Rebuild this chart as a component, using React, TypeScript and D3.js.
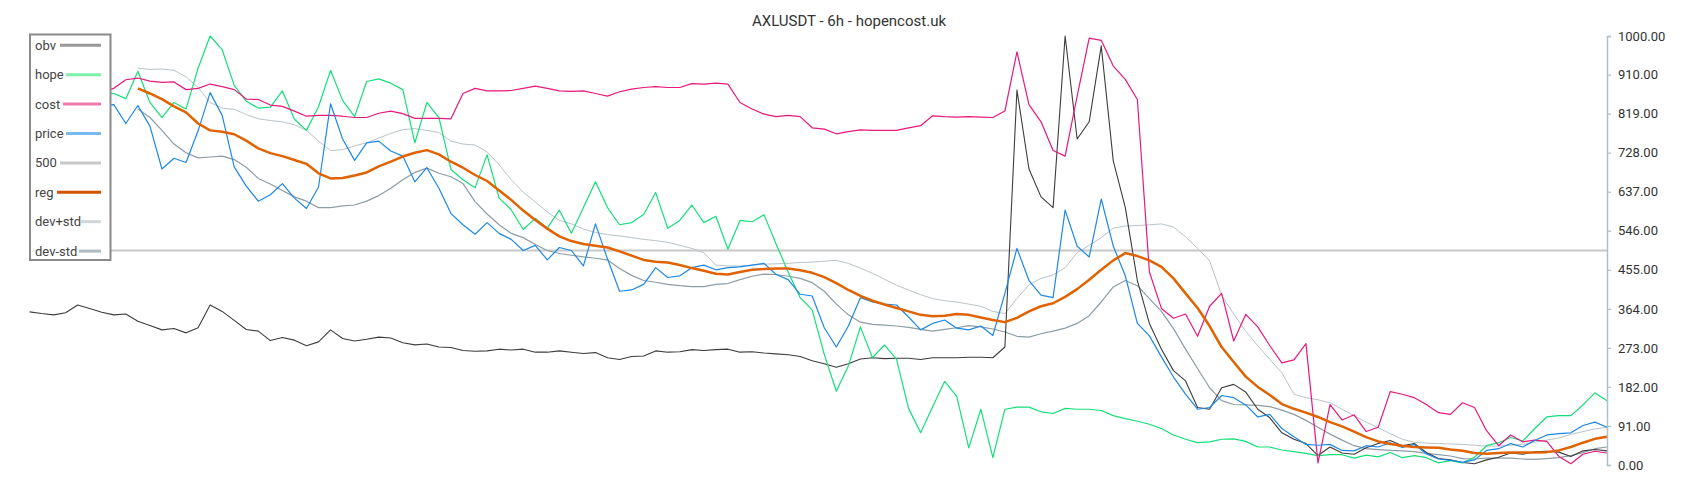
import React, { useEffect, useRef } from 'react';
import * as d3 from 'd3';

const TITLE = 'AXLUSDT - 6h - hopencost.uk';
const TICKS = [0, 91, 182, 273, 364, 455, 546, 637, 728, 819, 910, 1000];
const LEVEL = 500;

const obv: number[] = [357,353,350,355,373,365,356,350,352,335,
 325,315,318,308,320,373,358,337,316,312,
 290,297,291,278,287,315,295,289,293,298,
 296,285,280,282,275,274,267,265,266,270,
 268,270,263,263,266,263,260,262,250,246,
 253,254,266,263,264,269,267,269,270,263,
 264,261,259,257,253,243,236,228,236,247,
 250,248,249,249,246,250,250,250,251,251,
 250,275,874,690,625,600,1000,760,800,977,
 709,600,430,330,270,220,196,134,130,180,
 188,170,130,110,75,60,50,22,42,28,
 25,40,50,57,45,50,29,15,12,6,
 3,12,18,28,25,31,32,30,20,33,
 36,33];

const hope: number[] = [880,895,905,890,880,875,868,866,854,918,
 845,810,845,830,925,1000,968,885,848,832,
 834,872,806,780,835,920,850,812,894,900,
 890,875,751,845,810,689,665,646,723,622,
 595,549,575,552,594,540,600,660,600,560,
 565,584,635,552,570,606,565,580,503,570,
 567,583,515,450,390,361,258,172,231,322,
 250,280,246,132,75,136,195,160,40,130,
 17,130,135,135,124,120,132,130,130,127,
 115,108,102,95,85,70,60,52,54,60,
 61,55,42,42,35,31,27,22,24,24,
 16,23,19,29,17,22,17,5,10,5,
 18,45,52,64,56,85,112,115,115,140,
 168,150];

const cost: number[] = [860,866,870,868,874,872,870,878,898,902,
 895,892,893,875,878,888,882,875,853,852,
 839,836,825,813,815,815,813,810,810,820,
 825,819,808,808,808,807,866,878,872,872,
 873,878,883,878,872,871,872,866,860,870,
 876,880,882,880,880,889,888,890,888,845,
 830,818,812,815,812,786,783,772,777,781,
 780,780,780,786,791,814,812,811,812,811,
 810,825,963,840,800,733,720,860,995,990,
 930,899,852,450,365,342,352,300,370,400,
 289,351,322,278,238,245,283,5,141,105,
 117,78,88,171,165,157,141,122,118,145,
 134,80,45,70,54,58,55,20,3,25,
 32,28];

const price: number[] = [850,842,832,845,830,836,838,840,796,838,
 790,690,715,705,779,868,815,695,650,615,
 630,656,622,598,648,842,760,710,751,755,
 732,720,660,693,645,586,560,538,565,540,
 526,500,512,478,507,500,464,562,480,405,
 408,421,460,437,441,460,466,455,460,462,
 466,470,444,432,398,394,320,275,324,390,
 380,375,373,345,315,330,338,319,315,324,
 302,400,505,430,396,390,594,510,485,620,
 510,441,330,301,252,205,165,130,134,162,
 157,140,112,118,85,66,48,46,48,34,
 33,45,42,52,41,48,26,14,11,6,
 12,34,38,50,42,57,70,73,75,92,
 100,88];

const reg: (number | null)[] = [null,null,null,null,null,null,null,null,null,
 878,866,853,836,822,796,780,777,771,756,738,
 727,720,711,702,680,668,669,675,682,696,
 707,719,728,734,724,707,693,676,662,640,
 618,593,571,551,533,522,515,511,507,498,
 488,478,474,472,466,459,453,446,444,450,
 455,457,458,458,454,448,438,424,408,394,
 383,374,366,358,350,347,348,352,350,344,
 338,333,343,358,370,377,392,410,432,455,
 477,494,487,477,462,435,400,366,324,275,
 240,206,182,163,142,131,122,112,100,90,
 78,65,55,49,45,42,41,40,36,33,
 28,26,28,29,29,29,30,34,42,52,
 61,66];

const devPlus: (number | null)[] = [null,null,null,null,null,null,null,null,null,
 925,922,923,920,905,880,845,832,829,817,807,
 803,800,793,780,755,733,735,744,751,762,
 773,782,784,780,775,755,748,746,730,700,
 665,636,613,590,570,562,550,542,537,534,
 530,526,523,519,512,505,495,466,464,464,
 466,468,469,470,472,473,475,477,470,459,
 447,433,419,408,397,388,383,380,375,370,
 358,353,388,420,435,443,460,495,512,530,
 552,557,558,560,562,555,532,505,476,395,
 352,312,278,246,215,165,157,152,145,130,
 115,100,87,73,60,53,51,50,49,48,
 46,44,44,46,48,53,58,63,71,78,
 84,88];

const devMinus: (number | null)[] = [null,null,null,null,null,null,null,null,null,
 830,810,780,748,728,716,718,720,712,694,668,
 655,640,625,615,600,600,604,606,615,628,
 645,665,682,692,680,672,656,614,585,560,
 540,530,514,500,493,489,485,482,478,458,
 442,430,426,421,418,416,416,421,423,432,
 440,445,444,440,435,425,405,375,350,333,
 328,326,324,321,316,312,316,320,325,322,
 317,310,300,298,306,312,319,330,348,380,
 415,430,418,388,358,318,270,225,180,150,
 141,140,139,136,128,118,104,88,72,58,
 45,38,36,34,33,31,27,24,21,15,
 14,16,16,16,14,13,15,17,22,29,
 38,42];

const FONT = "Roboto, 'Noto Sans', 'DejaVu Sans', sans-serif";
const W = 1700;
const H = 500;
const N = obv.length;

const x = d3.scaleLinear().domain([0, N - 1]).range([29.5, 1607]);
const y = d3.scaleLinear().domain([0, 1000]).range([465, 36]);

type S = { name: string; data: (number | null)[]; color: string; width: number; legend: string; lx: number };

const SERIES: S[] = [
  { name: 'obv', data: obv, color: '#3d3d3d', width: 1.1, legend: '#999999', lx: 60 },
  { name: 'hope', data: hope, color: '#14df78', width: 1.2, legend: '#7ef0a8', lx: 66 },
  { name: 'cost', data: cost, color: '#e8187c', width: 1.2, legend: '#f07ab0', lx: 63 },
  { name: 'price', data: price, color: '#1e88e5', width: 1.2, legend: '#7ab8f0', lx: 66 },
  { name: '500', data: [], color: '#c8c8c8', width: 2, legend: '#c8c8c8', lx: 60 },
  { name: 'reg', data: reg, color: '#e06200', width: 2.5, legend: '#d35400', lx: 57 },
  { name: 'dev+std', data: devPlus, color: '#b9c3c8', width: 1, legend: '#d0d6da', lx: 81 },
  { name: 'dev-std', data: devMinus, color: '#8e9ca4', width: 1.2, legend: '#b0bcc4', lx: 79 },
];

const line = d3
  .line<number | null>()
  .defined((d) => d != null)
  .x((_, i) => x(i))
  .y((d) => y(d as number));

export default function App() {
  const axisRef = useRef<SVGGElement>(null);
  useEffect(() => {
    if (!axisRef.current) return;
    const g = d3.select(axisRef.current);
    g.call(
      d3
        .axisRight(y)
        .tickValues(TICKS)
        .tickFormat((d) => d3.format('.2f')(d as number))
        .tickSize(4)
        .tickSizeOuter(4)
        .tickPadding(7)
    );
    g.attr('font-family', FONT).attr('font-size', 13);
    g.select('.domain').attr('stroke', '#b0bec5').attr('stroke-width', 1.5);
    g.selectAll('.tick line').attr('stroke', '#b0bec5').attr('stroke-width', 1.2);
    g.selectAll('.tick text').attr('fill', '#333');
  }, []);

  const drawOrder = ['dev+std', 'dev-std', 'obv', 'hope', 'cost', 'price', 'reg'];

  return (
    <svg width={W} height={H} style={{ position: 'absolute', left: 0, top: 0, background: '#fff' }} fontFamily={FONT}>
      <rect x={0} y={0} width={W} height={H} fill="#fff" />
      <text x={849} y={26} textAnchor="middle" fontSize={15} fill="#333">
        {TITLE}
      </text>
      <line x1={x(0)} x2={x(N - 1)} y1={y(LEVEL)} y2={y(LEVEL)} stroke="#c8c8c8" strokeWidth={2} />
      {drawOrder.map((nm) => {
        const s = SERIES.find((t) => t.name === nm)!;
        return (
          <path
            key={nm}
            d={line(s.data) || ''}
            fill="none"
            stroke={s.color}
            strokeWidth={s.width}
            strokeLinejoin="round"
          />
        );
      })}
      <g ref={axisRef} transform={`translate(1607,0)`} />
      <g>
        <rect x={30} y={34.5} width={80.5} height={225.5} fill="#fff" stroke="#8a8a8a" strokeWidth={2} />
        {SERIES.map((s, k) => {
          const cy = 45.3 + k * 29.4;
          return (
            <g key={s.name}>
              <text x={35} y={cy} dy="0.35em" fontSize={13} fill="#444">
                {s.name}
              </text>
              <line x1={s.lx} x2={101} y1={cy} y2={cy} stroke={s.legend} strokeWidth={3} />
            </g>
          );
        })}
      </g>
    </svg>
  );
}
